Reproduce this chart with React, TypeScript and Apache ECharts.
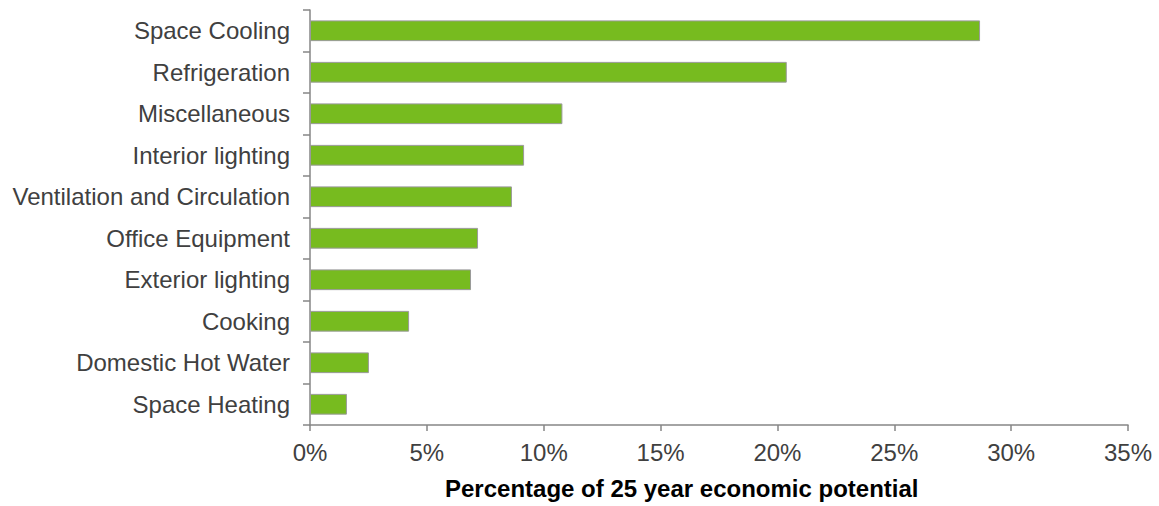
import React, { useEffect, useRef } from "react";
import * as echarts from "echarts";

const categories = [
  "Space Cooling",
  "Refrigeration",
  "Miscellaneous",
  "Interior lighting",
  "Ventilation and Circulation",
  "Office Equipment",
  "Exterior lighting",
  "Cooking",
  "Domestic Hot Water",
  "Space Heating",
];
const values = [28.67, 20.4, 10.8, 9.16, 8.64, 7.19, 6.89, 4.24, 2.52, 1.58];
const axisTitle = "Percentage of 25 year economic potential";

export default function App() {
  const ref = useRef<HTMLDivElement>(null);
  useEffect(() => {
    document.body.style.margin = "0";
    const chart = echarts.init(ref.current!, undefined, { renderer: "svg" });
    const font = "Liberation Sans, Arial, sans-serif";
    chart.setOption({
      animation: false,
      grid: { left: 310, top: 10, right: 31, bottom: 81, containLabel: false },
      xAxis: {
        type: "value",
        min: 0,
        max: 35,
        interval: 5,
        axisLine: { show: true, lineStyle: { color: "#868686", width: 1.5 } },
        axisTick: { show: true, length: 6, lineStyle: { color: "#868686", width: 1.5 } },
        splitLine: { show: false },
        axisLabel: {
          formatter: (v: number) => v + "%",
          color: "#404040",
          fontSize: 24,
          fontFamily: font,
          margin: 15,
        },
      },
      yAxis: {
        type: "category",
        data: categories,
        inverse: true,
        axisLine: { show: true, lineStyle: { color: "#868686", width: 1.5 } },
        axisTick: { show: true, length: 7, lineStyle: { color: "#868686", width: 1.5 } },
        axisLabel: {
          color: "#404040",
          fontSize: 24,
          fontFamily: font,
          margin: 20,
        },
      },
      graphic: [
        {
          type: "text",
          left: 445,
          top: 476,
          style: {
            text: axisTitle,
            fill: "#000000",
            font: "bold 24px Liberation Sans, Arial, sans-serif",
          },
        },
      ],
      series: [
        {
          type: "bar",
          data: values,
          barCategoryGap: "50%",
          itemStyle: { color: "#77BB1F", borderColor: "#9a9a9a", borderWidth: 1 },
        },
      ],
    });
    return () => chart.dispose();
  }, []);
  return <div ref={ref} style={{ width: 1159, height: 506 }} />;
}
